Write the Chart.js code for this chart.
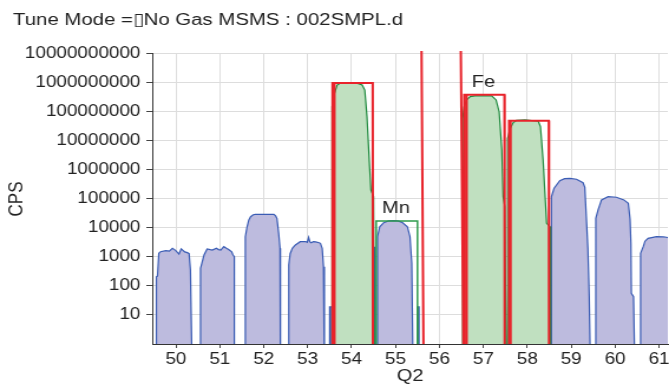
<!DOCTYPE html>
<html>
<head>
<meta charset="utf-8">
<script src="https://cdn.jsdelivr.net/npm/chart.js@4/dist/chart.umd.min.js"></script>
<style>
html,body{margin:0;padding:0;background:#fff;overflow:hidden;}
</style>
</head>
<body>
<canvas id="c" width="567" height="386" style="display:block;width:669px;height:386px;"></canvas>
<script>
// ---- data ----
const titleText = 'Tune Mode =\u25AFNo Gas MSMS : 002SMPL.d';
const xTitle = 'Q2';
const yTitle = 'CPS';
const xTicks = [50, 51, 52, 53, 54, 55, 56, 57, 58, 59, 60, 61];
const yTicks = [10, 100, 1000, 10000, 100000, 1000000, 10000000, 100000000, 1000000000, 10000000000];

// blue trace (masses 50-53, 55, 59-61 + small features)
const blueX = [
  49.555, 49.555, 49.58, 49.61, 49.65, 49.77, 49.85, 49.92, 49.99, 50.07, 50.12, 50.2, 50.26, 50.30, 50.33, 50.37,
  50.56, 50.56, 50.64, 50.71, 50.78, 50.83, 50.92, 50.97, 51.02, 51.09, 51.15, 51.20, 51.27, 51.30, 51.33, 51.33,
  51.58, 51.58, 51.62, 51.66, 51.70, 51.76, 51.81, 52.23, 52.27, 52.30, 52.34, 52.37, 52.38,
  52.57, 52.57, 52.60, 52.65, 52.72, 52.83, 52.95, 52.99, 53.02, 53.05, 53.08, 53.13, 53.18, 53.26, 53.29, 53.33, 53.36, 53.38,
  53.50, 53.50, 53.54, 53.54,
  54.52, 54.525, 54.55,
  54.59, 54.59, 54.64, 54.73, 54.84, 54.95, 55.05, 55.15, 55.27, 55.33, 55.37, 55.40,
  55.52, 55.52, 55.535, 55.535,
  58.55, 58.55, 58.61, 58.74, 58.85, 58.97, 59.12, 59.27, 59.31, 59.38, 59.41, 59.44,
  59.56, 59.56, 59.61, 59.69, 59.84, 60.03, 60.20, 60.30, 60.34, 60.36, 60.37, 60.42, 60.45,
  60.58, 60.58, 60.64, 60.68, 60.75, 60.94, 61.10, 61.17, 61.25, 61.35
];
const blueY = [
  0.1, 209, 220, 1340, 1520, 1650, 1600, 2000, 1700, 1260, 1900, 1500, 1410, 1300, 355, 0.1,
  0.1, 407, 1170, 1900, 1800, 1740, 2000, 1800, 1740, 2270, 2000, 1820, 1500, 1170, 1020, 0.1,
  0.1, 5000, 11000, 19000, 24500, 28500, 29600, 29600, 26000, 21400, 6600, 2000, 0.1,
  0.1, 530, 1300, 2000, 2600, 3370, 3400, 3200, 4770, 3300, 3100, 3400, 3300, 3100, 2960, 2000, 463, 0.1,
  0.1, 19, 19, 0.1,
  0.1, 2270, 0.1,
  0.1, 5000, 11000, 15200, 17500, 17800, 17500, 15600, 11000, 5000, 605, 0.1,
  0.1, 19, 19, 0.1,
  0.1, 120000, 234000, 427000, 500000, 515000, 478000, 364000, 250000, 2000, 43, 0.1,
  0.1, 21500, 41600, 93000, 120000, 115000, 93000, 71000, 20000, 2960, 56, 43, 0.1,
  0.1, 1340, 2270, 3500, 4400, 5000, 4900, 4800, 4500, 0.1
];

// green trace (masses 54, 57, 58)
const greenX = [
  53.555, 53.555, 53.58, 53.61, 53.67, 53.74, 54.12, 54.24, 54.30, 54.35, 54.41, 54.44, 54.50, 54.52,
  55.49, 55.49, 55.50, 55.50,
  56.53, 56.53, 56.56, 56.62, 56.70, 56.81, 57.19, 57.29, 57.36, 57.42, 57.45, 57.49, 57.52,
  57.55, 57.55, 57.61, 57.68, 57.75, 57.95, 58.25, 58.30, 58.36, 58.44, 58.52, 58.53
];
const greenY = [
  0.1, 1.5e8, 3e8, 4.4e8, 8.5e8, 9.8e8, 9.8e8, 8.5e8, 5.7e8, 6.9e7, 1.3e6, 2e5, 1.2e5, 0.1,
  0.1, 20, 20, 0.1,
  0.1, 6e7, 1.5e8, 2.6e8, 3.4e8, 3.6e8, 3.6e8, 2.6e8, 1e8, 4.9e6, 1.2e5, 5.4e4, 0.1,
  0.1, 1.2e7, 2.7e7, 4.3e7, 5.1e7, 5.3e7, 4.8e7, 3.1e7, 2.2e6, 1.45e4, 1.1e4, 0.1
];

// red trace (boxes and off-scale mass 56)
const redX = [
  53.56, 53.565, 54.48, 54.485, 55.64, 55.58, 56.47, 56.55, 56.56, 56.565, 57.48, 57.485, 57.58, 57.585, 58.49, 58.495,
  58.5, 53.61, 53.61, 53.7, 56.62, 56.62, 56.7, 57.62, 57.62
];
const redY = [
  0.1, 1e9, 1e9, 0.1, 0.1, 1e13, 1e13, 0.1, 0.1, 3.9e8, 3.9e8, 0.1, 0.1, 5e7, 5e7, 0.1,
  null, 0.1, 1e9, null, 0.1, 3.9e8, null, 0.1, 5e7
];

// green box around Mn
const mnBoxX = [54.56, 54.56, 55.5, 55.5];
const mnBoxY = [0.1, 17400, 17400, 0.1];

// peak labels
const peakLabels = ['Mn', 'Fe'];
const peakLabelX = [55.01, 57.0];
const peakLabelY = [4.7e4, 1.08e9];

function pts(xs, ys) { return xs.map((x, i) => ({x: x, y: ys[i]})); }

const FONT = 'Liberation Sans, Arial, Helvetica, sans-serif';
const TXT = '#222222';

const labelPlugin = {
  id: 'peakLabels',
  afterDatasetsDraw(chart) {
    const ctx = chart.ctx;
    const xs = chart.scales.x, ys = chart.scales.y;
    ctx.save();
    ctx.font = '17px ' + FONT;
    ctx.fillStyle = TXT;
    ctx.textAlign = 'center';
    ctx.textBaseline = 'middle';
    peakLabels.forEach((t, i) => {
      ctx.fillText(t, xs.getPixelForValue(peakLabelX[i]), ys.getPixelForValue(peakLabelY[i]));
    });
    ctx.restore();
  }
};

new Chart(document.getElementById('c'), {
  type: 'line',
  data: {
    datasets: [
      {label: 'red', data: pts(redX, redY), borderColor: '#e8232b', borderWidth: 2, fill: false,
       clip: {left: 0, top: 3, right: 0, bottom: 0}},
      {label: 'mnbox', data: pts(mnBoxX, mnBoxY), borderColor: '#2e9a4c', borderWidth: 1.5, fill: false},
      {label: 'green', data: pts(greenX, greenY), borderColor: '#1f8a3e', borderWidth: 1.2,
       backgroundColor: 'rgb(192,224,192)', fill: 'start'},
      {label: 'blue', data: pts(blueX, blueY), borderColor: '#3a5cb4', borderWidth: 1.2,
       backgroundColor: 'rgb(189,187,222)', fill: 'start'}
    ]
  },
  options: {
    responsive: false,
    animation: false,
    devicePixelRatio: 1,
    parsing: true,
    elements: {point: {radius: 0, hoverRadius: 0}, line: {tension: 0}},
    layout: {padding: {left: 11, right: 1, top: 0, bottom: 0}},
    plugins: {
      legend: {display: false},
      tooltip: {enabled: false},
      title: {display: true, text: titleText, align: 'start', color: TXT,
              font: {family: FONT, size: 17.3, weight: 'normal'}, padding: {top: 10, bottom: 23.2}}
    },
    scales: {
      x: {
        type: 'linear', min: 49.46, max: 61.2,
        afterBuildTicks: s => { s.ticks = xTicks.map(v => ({value: v})); },
        afterFit: s => { s.height = 42; s.paddingLeft = 0; s.paddingRight = 0; },
        ticks: {color: TXT, font: {family: FONT, size: 16}, padding: 2, maxRotation: 0, autoSkip: false},
        grid: {color: '#dddddd', tickColor: '#444444', tickLength: 4, lineWidth: 1},
        border: {color: '#333333', width: 1},
        title: {display: true, text: xTitle, color: TXT, font: {family: FONT, size: 17}, padding: {top: 0, bottom: -1}}
      },
      y: {
        type: 'logarithmic', min: 1, max: 1e10,
        afterBuildTicks: s => { s.ticks = yTicks.map(v => ({value: v})); },
        afterFit: s => { s.width = 118; },
        ticks: {color: TXT, font: {family: FONT, size: 16}, padding: 5, autoSkip: false,
                callback: v => Number(v).toFixed(0)},
        grid: {color: '#dddddd', tickColor: '#444444', tickLength: 5, lineWidth: 1},
        border: {color: '#333333', width: 1},
        title: {display: true, text: yTitle, color: TXT, font: {family: FONT, size: 17}, padding: {top: -7, bottom: 0}}
      }
    }
  },
  plugins: [labelPlugin]
});
</script>
</body>
</html>
